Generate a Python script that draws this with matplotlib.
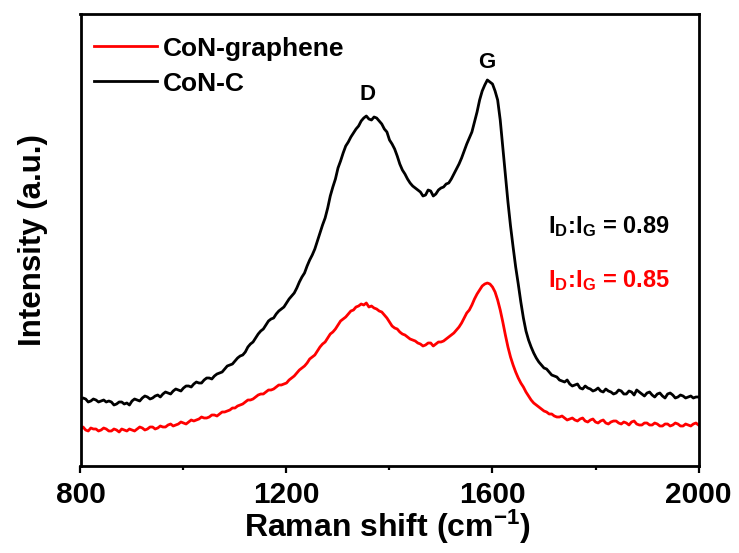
import matplotlib
matplotlib.use("Agg")
import matplotlib.pyplot as plt

plt.rcParams['font.family'] = ['Liberation Sans', 'DejaVu Sans']
plt.rcParams['font.weight'] = 'bold'
plt.rcParams['mathtext.fontset'] = 'custom'
plt.rcParams['mathtext.rm'] = 'Liberation Sans:bold'
plt.rcParams['mathtext.bf'] = 'Liberation Sans:bold'
plt.rcParams['mathtext.it'] = 'Liberation Sans:bold'

# Raman shift (cm^-1), sampled every 5 cm^-1
shift = list(range(800, 2001, 5))

# CoN-C intensity (a.u.)
con_c = [62, 64, 63, 60, 61, 63, 62, 60, 61, 62,
         60, 61, 60, 57, 58, 60, 60, 58, 59, 57,
         61, 63, 62, 61, 64, 66, 65, 63, 64, 66,
         67, 65, 68, 70, 69, 68, 71, 73, 72, 71,
         74, 76, 76, 75, 78, 80, 79, 79, 82, 84,
         84, 83, 86, 88, 89, 90, 93, 96, 97, 98,
         101, 104, 106, 107, 110, 115, 118, 120, 124, 128,
         131, 133, 137, 141, 143, 144, 148, 151, 153, 155,
         159, 163, 166, 169, 174, 180, 185, 189, 196, 202,
         207, 213, 221, 229, 237, 244, 254, 266, 275, 283,
         294, 301, 309, 316, 320, 325, 329, 333, 336, 341,
         344, 346, 343, 342, 345, 344, 341, 338, 333, 330,
         322, 318, 313, 306, 298, 292, 288, 283, 279, 276,
         274, 272, 270, 266, 267, 272, 271, 266, 268, 272,
         274, 275, 278, 279, 283, 288, 293, 298, 304, 311,
         318, 324, 330, 340, 350, 362, 371, 377, 382, 380,
         378, 371, 362, 342, 315, 287, 260, 236, 215, 195,
         178, 160, 144, 131, 122, 115, 109, 104, 100, 97,
         94, 93, 90, 87, 86, 85, 82, 81, 80, 82,
         78, 76, 77, 78, 74, 73, 76, 74, 73, 71,
         72, 74, 71, 70, 73, 71, 70, 68, 69, 72,
         71, 68, 68, 71, 70, 67, 72, 70, 68, 66,
         69, 70, 67, 65, 68, 69, 66, 64, 68, 69,
         67, 64, 65, 67, 66, 64, 65, 66, 64, 65,
         65]

# CoN-graphene intensity (a.u.)
con_graphene = [33, 35, 32, 31, 34, 33, 33, 31, 32, 34,
                33, 31, 31, 33, 32, 30, 33, 32, 31, 33,
                32, 31, 33, 35, 34, 32, 33, 35, 35, 33,
                34, 36, 35, 35, 37, 38, 36, 37, 38, 40,
                39, 38, 40, 42, 41, 42, 43, 45, 44, 44,
                45, 47, 47, 46, 48, 50, 50, 51, 52, 54,
                54, 56, 57, 58, 60, 62, 62, 63, 65, 67,
                68, 68, 70, 72, 72, 73, 75, 77, 77, 78,
                79, 82, 84, 86, 89, 92, 94, 96, 99, 103,
                105, 107, 111, 115, 118, 120, 124, 128, 130, 133,
                137, 141, 143, 145, 148, 151, 152, 155, 156, 158,
                157, 159, 155, 156, 154, 153, 151, 150, 147, 144,
                140, 136, 134, 133, 130, 128, 127, 125, 123, 122,
                121, 119, 118, 116, 117, 119, 119, 116, 118, 120,
                120, 121, 123, 125, 127, 129, 132, 135, 139, 144,
                149, 152, 157, 163, 168, 172, 176, 178, 179, 178,
                175, 170, 162, 152, 140, 127, 115, 105, 97, 90,
                84, 79, 75, 70, 66, 62, 59, 57, 55, 53,
                51, 50, 48, 48, 46, 45, 45, 46, 44, 42,
                43, 44, 42, 41, 43, 44, 41, 40, 42, 43,
                40, 39, 41, 42, 39, 38, 40, 41, 41, 39,
                38, 40, 39, 37, 40, 41, 38, 37, 37, 39,
                39, 37, 37, 39, 38, 36, 36, 38, 38, 36,
                37, 39, 38, 36, 36, 38, 37, 36, 38, 39,
                37]

x_ticks = [800, 1200, 1600, 2000]
x_minor = [1000, 1400, 1800]

fig = plt.figure(figsize=(7.39, 5.53), dpi=100)
W, H = 739, 553
L, R, T, B = 80.5, 698.5, 14, 466
ax = fig.add_axes([L / W, 1 - B / H, (R - L) / W, (B - T) / H])

ax.plot(shift, con_graphene, color='#ff0000', lw=2.0, label='CoN-graphene')
ax.plot(shift, con_c, color='black', lw=2.0, label='CoN-C')

ax.set_xlim(800, 2000)
ax.set_ylim(-4, 448)
ax.set_xticks(x_ticks)
ax.set_xticks(x_minor, minor=True)
ax.set_yticks([])
ax.tick_params(axis='x', which='major', direction='out', length=5, width=1.6,
               labelsize=21.5, pad=6)
ax.tick_params(axis='x', which='minor', direction='out', length=3, width=1.6)
for lab in ax.get_xticklabels():
    lab.set_fontweight('bold')
for sp in ax.spines.values():
    sp.set_linewidth(2.0)

ax.set_xlabel('Raman shift (cm$^{-1}$)', fontsize=23, fontweight='bold')
ax.xaxis.set_label_coords(0.496, -0.093)
ax.set_ylabel('Intensity (a.u.)', fontsize=22.5, fontweight='bold')
ax.yaxis.set_label_coords(-0.053, 0.5)

leg = ax.legend(loc='upper left', bbox_to_anchor=(-0.008, 0.991), frameon=False,
                prop={'size': 19, 'weight': 'bold'}, handlelength=2.4,
                handletextpad=0.2, labelspacing=0.42, borderaxespad=0.3)

ax.text(1358, 368, 'D', fontsize=16, fontweight='bold', ha='center', va='center')
ax.text(1589, 400, 'G', fontsize=16, fontweight='bold', ha='center', va='center')
ax.text(1708, 229, 'I$_{\\rm D}$:I$_{\\rm G}$ = 0.89', fontsize=17,
        fontweight='bold', color='black', ha='left', va='baseline')
ax.text(1708, 175, 'I$_{\\rm D}$:I$_{\\rm G}$ = 0.85', fontsize=17,
        fontweight='bold', color='#ff0000', ha='left', va='baseline')

fig.savefig('out.png', dpi=100)
